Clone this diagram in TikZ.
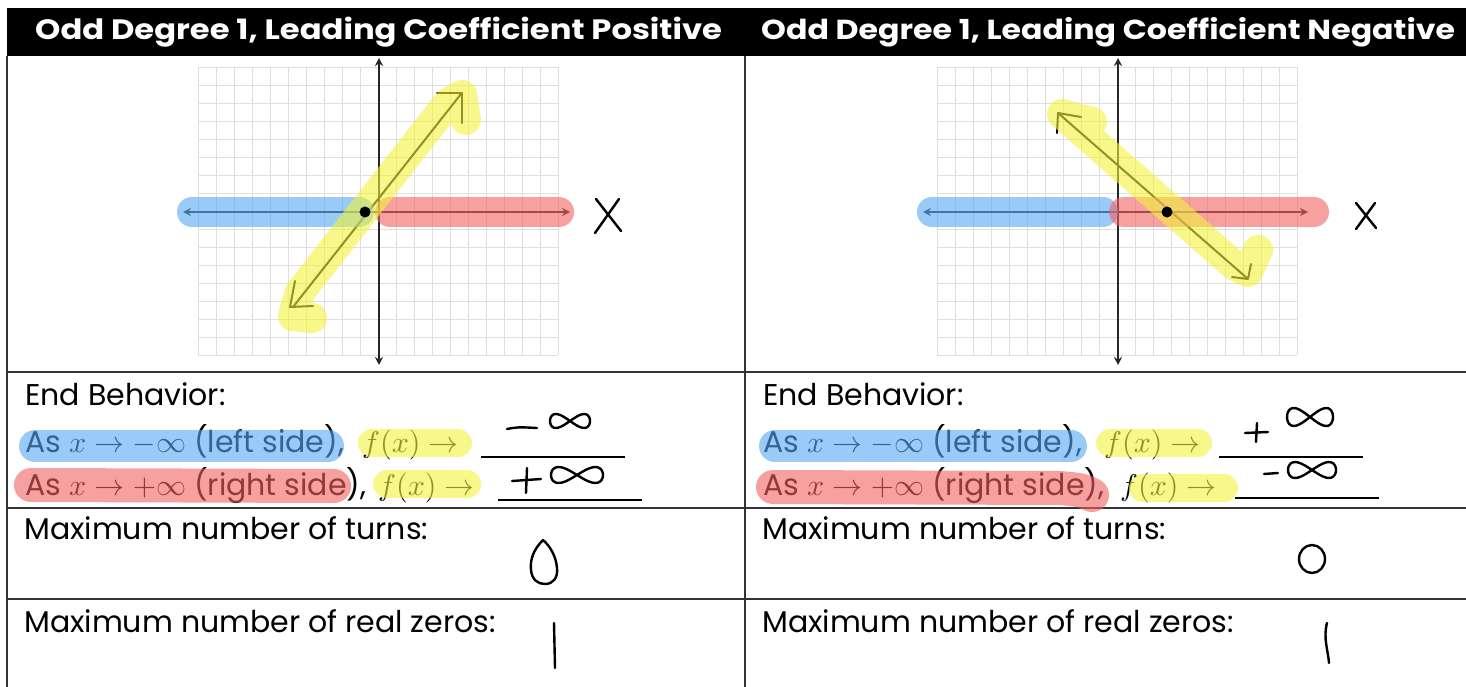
\documentclass[tikz,border=0pt]{standalone}
\usepackage{fontspec}
\setmainfont{Poppins}
\newfontfamily\headfont{Poppins}[FakeStretch=1.15]
\DeclareFontShape{OML}{cmm}{m}{it}{<->cmmi10}{}
\DeclareFontShape{OMS}{cmsy}{m}{n}{<->cmsy10}{}
\DeclareFontShape{OT1}{cmr}{m}{n}{<->cmr10}{}
\usetikzlibrary{arrows.meta}
\definecolor{hlblue}{RGB}{87,168,242}
\definecolor{hlred}{RGB}{243,97,97}
\definecolor{hlyel}{RGB}{242,242,60}
\definecolor{gridc}{RGB}{222,222,222}
\tikzset{
 gridline/.style={draw=gridc, line width=0.9pt},
 axisline/.style={draw=black!85, line width=2.2pt, {Stealth[length=8pt,width=8pt]}-{Stealth[length=8pt,width=8pt]}},
 fline/.style={draw=black, line width=2pt},
 handstroke/.style={draw=black, line width=2.4pt, line cap=round, line join=round},
 hl/.style={line width=#1, line cap=round, line join=round, opacity=0.6},
 hl/.default=30pt,
 tline/.style={draw=black!80, line width=1.6pt},
 body/.style={font=\fontsize{30}{36}\selectfont, anchor=base west, inner sep=0pt},
 head/.style={font=\headfont\bfseries\fontsize{28}{32}\selectfont, text=white, anchor=base west, inner sep=0pt},
 blank/.style={draw=black, line width=1.3pt},
}
\begin{document}
\begin{tikzpicture}[x=1pt,y=-1pt]
\useasboundingbox (0,0) rectangle (1466,687);
\fill[white] (0,0) rectangle (1466,687);
% header
\fill[black] (7,8) rectangle (1466,56);
\node[head] (h1) at (35,40) {Odd Degree 1, Leading Coefficient Positive};
\node[head, font=\headfont\bfseries\fontsize{27.5}{32}\selectfont] (h2) at (761,40) {Odd Degree 1, Leading Coefficient Negative};
% table lines
\draw[tline] (7,56) -- (7,687);
\draw[tline] (745,56) -- (745,687);
\foreach \yy in {372,508,599} \draw[tline] (7,\yy) -- (1466,\yy);
% grids
\foreach \gx in {198,937}{
 \foreach \i in {0,...,20} \draw[gridline] ({\gx+18*\i},67) -- ({\gx+18*\i},355);
 \foreach \j in {0,...,16} \draw[gridline] (\gx,{67+18*\j}) -- ({\gx+360},{67+18*\j});
}
% ---------- left graph
\draw[axisline] (379,58) -- (379,365);
\draw[axisline] (183,212) -- (570,212);
\draw[fline] (293,307) -- (461,94);
\draw[handstroke, line width=2pt] (437,93) -- (462,93) -- (462,123);
\draw[handstroke, line width=2pt] (295,281) -- (290,307) -- (313,306);
\draw[handstroke] (596,199) -- (621,231) (619,199) -- (595,233);
\draw[hl, hlblue] (192,212) -- (359,212);
\draw[hl, hlred] (390,212) -- (559,212);
\draw[hl, hlyel] (312,318) -- (293,316) -- (300,292) -- (448,103) -- (462,95) -- (466,120);
\fill (365,212) circle (5.5);
% ---------- right graph
\draw[axisline] (1118,58) -- (1118,365);
\draw[axisline] (923,212) -- (1308,212);
\draw[fline] (1058,113) -- (1248,279);
\draw[handstroke, line width=2pt] (1081,117) -- (1058,113) -- (1057,133);
\draw[handstroke, line width=2pt] (1232,277) -- (1248,279) -- (1251,264);
\draw[handstroke] (1356,203) -- (1376,228) (1375,203) -- (1356,229);
\draw[hl, hlblue] (932,212) -- (1103,212);
\draw[hl, hlred] (1124,212) -- (1314,212);
\draw[hl, hlyel] (1092,122) -- (1062,114) -- (1235,266) -- (1248,272) -- (1258,250);
\fill (1167,212) circle (5.5);
% ---------- left text
\node[body] (eb1) at (25,405) {End Behavior:};
\node[body] (l2a) at (25,452) {As $x\rightarrow-\infty$ (left side)};
\node[body] (l2b) at (l2a.base east) {,};
\node[body] (l2c) at (362,452) {$f(x)\rightarrow$};
\draw[blank] (481,457) -- (625,457);
\node[body] (l3a) at (25,495) {As $x\rightarrow+\infty$ (right side)};
\node[body] (l3b) at (l3a.base east) {,};
\node[body] (l3c) at (378,495) {$f(x)\rightarrow$};
\draw[blank] (498,500) -- (642,500);
\node[body] (t1) at (24,539) {Maximum number of turns:};
\node[body] (z1) at (24,632) {Maximum number of real zeros:};
\draw[hl=32pt, hlblue] (35,446) -- (328,446);
\draw[hl=28pt, hlyel] (372,443) -- (458,443);
\draw[hl=34pt, hlred] (31,485) -- (334,486);
\draw[hl=28pt, hlyel] (387,484) -- (467,484);
% handwriting left
\draw[handstroke] (507,429) .. controls (518,427) .. (537,428);
\draw[handstroke] plot[smooth, domain=0:360, samples=41] ({570+20*cos(\x)}, {421+7*sin(2*\x)});
\draw[handstroke] (512,481) -- (541,479) (527,468) -- (526,493);
\draw[handstroke] plot[smooth, domain=0:360, samples=41] ({577+26*cos(\x)}, {475+8*sin(2*\x)});
\draw[handstroke] (543,540) .. controls (533,550) and (530,560) .. (531,570) .. controls (532,580) and (538,584) .. (545,584) .. controls (553,584) and (558,578) .. (557,568) .. controls (556,556) and (550,546) .. (543,540);
\draw[handstroke] (554,623) -- (555,668);
% ---------- right text
\node[body] (eb2) at (763,405) {End Behavior:};
\node[body] (r2a) at (763,452) {As $x\rightarrow-\infty$ (left side)};
\node[body] (r2b) at (r2a.base east) {,};
\node[body] (r2c) at (1104,452) {$f(x)\rightarrow$};
\draw[blank] (1219,457) -- (1363,457);
\node[body] (r3a) at (763,495) {As $x\rightarrow+\infty$ (right side)};
\node[body] (r3b) at (r3a.base east) {,};
\node[body] (r3c) at (1120,495) {$f(x)\rightarrow$};
\draw[blank] (1235,498) -- (1379,498);
\node[body] (t2) at (762,539) {Maximum number of turns:};
\node[body] (z2) at (762,632) {Maximum number of real zeros:};
\draw[hl=32pt, hlblue] (775,446) -- (1071,446);
\draw[hl=28pt, hlyel] (1110,443) -- (1198,443);
\draw[hl=34pt, hlred] (773,487) -- (1060,488) .. controls (1082,490) .. (1092,495);
\draw[hl=28pt, hlyel] (1143,488) -- (1224,488);
% handwriting right
\draw[handstroke] (1245,433) -- (1268,432) (1257,423) -- (1256,442);
\draw[handstroke] plot[smooth, domain=0:360, samples=41] ({1310+23*cos(\x)}, {417+9*sin(2*\x)});
\draw[handstroke] (1264,474) -- (1278,473);
\draw[handstroke] plot[smooth, domain=0:360, samples=41] ({1312+24*cos(\x)}, {470+8*sin(2*\x)});
\draw[handstroke] (1312,559) ellipse (13 and 14);
\draw[handstroke] (1327,623) .. controls (1323,638) and (1328,650) .. (1329,663);
\end{tikzpicture}
\end{document}
